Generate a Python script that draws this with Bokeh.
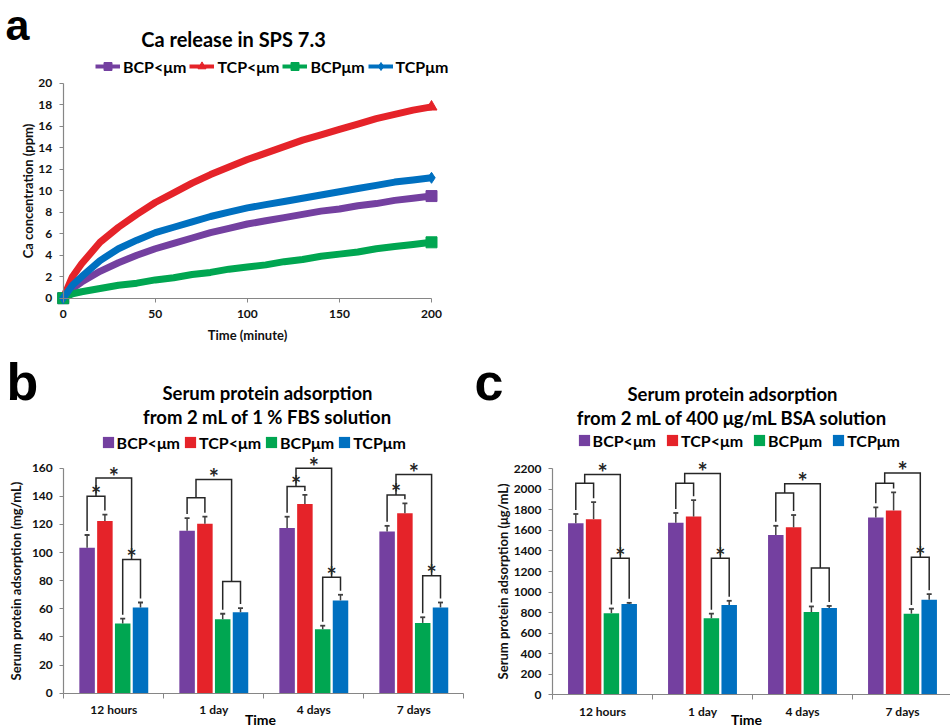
import numpy as np
from bokeh.plotting import figure
from bokeh.models import Label, Legend, LegendItem, FixedTicker, Range1d, ColumnDataSource
from bokeh.layouts import column, row
from bokeh.embed import file_html
from bokeh.resources import INLINE
from bokeh.core.properties import value

FONT = "Lato"
LETTER_FONT = "Liberation Sans"
AXIS_GRAY = "#868686"
TXT = "#111111"
ERR = "#404040"
BRK = "#262626"
BASE_SHIFT = 0.4   # empirical: rendered alphabetic baseline sits this many em below y

series = ["BCP<μm", "TCP<μm", "BCPμm", "TCPμm"]
colors = ["#7440A0", "#E52329", "#00A651", "#0070C0"]
markers = ["square", "triangle", "square", "diamond"]

# ---------------- Panel a data ----------------
time_min = [0, 5, 10, 20, 30, 40, 50, 60, 70, 80, 90, 100, 110, 120, 130, 140, 150, 160, 170, 180, 190, 200]
ca_bcp_sub = [0, 0.9, 1.5, 2.5, 3.3, 4.0, 4.6, 5.1, 5.6, 6.1, 6.5, 6.9, 7.2, 7.5, 7.8, 8.1, 8.3, 8.6, 8.8, 9.1, 9.3, 9.5]
ca_tcp_sub = [0, 2.0, 3.2, 5.2, 6.6, 7.8, 8.9, 9.8, 10.7, 11.5, 12.2, 12.9, 13.5, 14.1, 14.7, 15.2, 15.7, 16.2, 16.7, 17.1, 17.5, 17.8]
ca_bcp_um = [0, 0.4, 0.6, 0.9, 1.2, 1.4, 1.7, 1.9, 2.2, 2.4, 2.7, 2.9, 3.1, 3.4, 3.6, 3.9, 4.1, 4.3, 4.6, 4.8, 5.0, 5.2]
ca_tcp_um = [0, 1.2, 2.0, 3.5, 4.6, 5.4, 6.1, 6.6, 7.1, 7.6, 8.0, 8.4, 8.7, 9.0, 9.3, 9.6, 9.9, 10.2, 10.5, 10.8, 11.0, 11.2]
a_xticks = [0, 50, 100, 150, 200]
a_yticks = [0, 2, 4, 6, 8, 10, 12, 14, 16, 18, 20]

# ---------------- Panel b data (1 % FBS, mg/mL) ----------------
categories = ["12 hours", "1 day", "4 days", "7 days"]
fbs_bcp_sub = [103.5, 115.5, 117.5, 115.0]
fbs_tcp_sub = [122.5, 120.5, 134.5, 128.0]
fbs_bcp_um = [49.5, 52.5, 45.5, 50.0]
fbs_tcp_um = [61.0, 57.5, 66.0, 61.0]
fbs_err_bcp_sub = [9.0, 9.0, 8.0, 4.0]
fbs_err_tcp_sub = [4.5, 5.0, 6.5, 7.0]
fbs_err_bcp_um = [3.5, 4.0, 2.5, 4.0]
fbs_err_tcp_um = [3.5, 3.0, 4.0, 3.5]
fbs_h_sub = [140, 139, 147, 141]
fbs_h_um = [95, 79.5, 82.5, 83.5]
fbs_h_link = [153, 152, 160, 155.5]
fbs_star_sub = [True, False, True, True]
fbs_star_um = [True, False, True, True]
fbs_star_link = [True, True, True, True]
b_yticks = [0, 20, 40, 60, 80, 100, 120, 140, 160]

# ---------------- Panel c data (400 µg/mL BSA, µg/mL) ----------------
bsa_bcp_sub = [1670, 1675, 1555, 1725]
bsa_tcp_sub = [1710, 1735, 1630, 1795]
bsa_bcp_um = [795, 745, 805, 790]
bsa_tcp_um = [885, 875, 845, 925]
bsa_err_bcp_sub = [90, 95, 90, 100]
bsa_err_tcp_sub = [165, 160, 120, 175]
bsa_err_bcp_um = [45, 45, 55, 45]
bsa_err_tcp_um = [10, 40, 20, 55]
bsa_h_sub = [2060, 2060, 1965, 2060]
bsa_h_um = [1330, 1330, 1235, 1340]
bsa_h_link = [2145, 2155, 2055, 2160]
bsa_star_sub = [False, False, False, False]
bsa_star_um = [True, True, False, True]
bsa_star_link = [True, True, True, True]
c_yticks = list(range(0, 2201, 200))


class Geo:
    """Maps page pixels of one figure to its data coordinates."""
    def __init__(self, left, top, width, height, x0_px, x_per, y0_px, y_per):
        self.left, self.top, self.width, self.height = left, top, width, height
        self.x0_px, self.x_per, self.y0_px, self.y_per = x0_px, x_per, y0_px, y_per

    def x(self, px):
        return (px - self.x0_px) / self.x_per

    def y(self, py):
        return (self.y0_px - py) / self.y_per

    def xrange(self):
        return Range1d(self.x(self.left), self.x(self.left + self.width))

    def yrange(self):
        return Range1d(self.y(self.top + self.height), self.y(self.top))


def make_fig(g):
    p = figure(width=g.width, height=g.height, x_range=g.xrange(), y_range=g.yrange(),
               min_border=0, min_border_left=0, min_border_right=0, min_border_top=0, min_border_bottom=0,
               output_backend="svg", toolbar_location=None)
    p.title.visible = False
    p.xgrid.visible = False
    p.ygrid.visible = False
    p.outline_line_color = None
    p.background_fill_color = "white"
    p.border_fill_color = "white"
    p.xaxis.fixed_location = 0
    p.yaxis.fixed_location = 0
    for ax in p.axis:
        ax.axis_line_color = AXIS_GRAY
        ax.axis_line_width = 1.2
        ax.major_tick_line_color = AXIS_GRAY
        ax.major_tick_in = 0
        ax.major_tick_out = 4
        ax.minor_tick_line_color = None
        ax.major_label_text_font = FONT
        ax.major_label_text_font_style = "bold"
        ax.major_label_text_font_size = "12px"
        ax.major_label_text_color = TXT
        ax.axis_label_text_font = FONT
        ax.axis_label_text_font_style = "bold"
        ax.axis_label_text_font_size = "13px"
        ax.axis_label_text_color = TXT
    return p


def add_text(p, g, px, baseline_py, text, size_px, font=FONT, align="center"):
    p.add_layout(Label(x=g.x(px), y=g.y(baseline_py - BASE_SHIFT * size_px), text=text,
                       text_align=align, text_baseline="alphabetic",
                       text_font=font, text_font_style="bold", text_font_size=f"{size_px}px",
                       text_color="#000000"))


SPLIT = 350  # page y where the lower row of panels starts

# ======================= Panel a =======================
ga = Geo(0, 0, 950, SPLIT, 62.7, (431 - 62.7) / 200, 297.7, (297.7 - 82.7) / 20)
pa = make_fig(ga)
pa.xaxis.ticker = FixedTicker(ticks=a_xticks)
pa.yaxis.ticker = FixedTicker(ticks=a_yticks)
pa.xaxis.bounds = (a_xticks[0], a_xticks[-1])
pa.yaxis.bounds = (a_yticks[0], a_yticks[-1])
pa.xaxis.axis_label = "Time (minute)"
pa.yaxis.axis_label = "Ca concentration (ppm)"
pa.xaxis.major_label_standoff = 8
pa.yaxis.major_label_standoff = 7
pa.xaxis.axis_label_standoff = 5
pa.yaxis.axis_label_standoff = 0

a_series = [ca_bcp_sub, ca_tcp_sub, ca_bcp_um, ca_tcp_um]
a_items = []
# thin line + small end markers (drawn first, hidden under the thick ones) serve as legend glyphs
for name, vals, c, m in zip(series, a_series, colors, markers):
    lr = pa.line(time_min, vals, line_width=4, color=c)
    sr = pa.scatter([time_min[0], time_min[-1]], [vals[0], vals[-1]], marker=m, size=8, color=c)
    a_items.append(LegendItem(label=name, renderers=[lr, sr]))
for name, vals, c, m in zip(series, a_series, colors, markers):
    pa.line(time_min, vals, line_width=7, color=c)
    pa.scatter([time_min[0], time_min[-1]], [vals[0], vals[-1]], marker=m, size=11, color=c)

leg_a = Legend(items=a_items, orientation="horizontal", location=(95, SPLIT - 76),
               glyph_width=25, glyph_height=20, label_height=20, label_standoff=3, spacing=3,
               padding=0, margin=0, border_line_color=None, background_fill_alpha=0,
               label_text_font=FONT, label_text_font_style="bold", label_text_font_size="16px",
               label_text_color="#000000")
pa.add_layout(leg_a)
add_text(pa, ga, 233, 46.5, "Ca release in SPS 7.3", 20)
add_text(pa, ga, 5, 42, "a", 43, font=LETTER_FONT, align="left")


# ======================= Bar panels =======================
offsets = [-0.267, -0.089, 0.089, 0.267]
BAR_W = 0.155
x_center = np.arange(len(categories)) + 0.5


def bar_panel(p, means, errs, h_sub, h_um, h_link, s_sub, s_um, s_link, py_unit, star_px):
    rends = []
    tops = []
    for j, (m, e, c) in enumerate(zip(means, errs, colors)):
        xs = x_center + offsets[j]
        m = np.array(m, dtype=float)
        t = m + np.array(e, dtype=float)
        tops.append(t)
        r = p.vbar(x=xs, top=m, width=BAR_W, color=c, line_color=None)
        rends.append(r)
        p.segment(x0=xs, y0=m, x1=xs, y1=t, line_color=ERR, line_width=1.5)
        p.segment(x0=xs - 0.025, y0=t, x1=xs + 0.025, y1=t, line_color=ERR, line_width=1.8)
    gap = 4.0 / py_unit
    bx, by, sx, sy = [], [], [], []
    for i in range(len(categories)):
        xp, xr, xg, xb = [x_center[i] + o for o in offsets]
        bx.append([xp, xp, xr, xr]); by.append([tops[0][i] + gap, h_sub[i], h_sub[i], tops[1][i] + gap])
        bx.append([xg, xg, xb, xb]); by.append([tops[2][i] + gap, h_um[i], h_um[i], tops[3][i] + gap])
        m1, m2 = (xp + xr) / 2, (xg + xb) / 2
        bx.append([m1, m1, m2, m2]); by.append([h_sub[i], h_link[i], h_link[i], h_um[i]])
        for flag, xx, hh in ((s_sub[i], m1, h_sub[i]), (s_um[i], m2, h_um[i]), (s_link[i], (m1 + m2) / 2, h_link[i])):
            if flag:
                sx.append(xx); sy.append(hh + star_px / py_unit)
    p.multi_line(xs=bx, ys=by, line_color=BRK, line_width=1.5, line_join="miter")
    src = ColumnDataSource(dict(x=sx, y=sy, t=["*"] * len(sx)))
    p.text(x="x", y="y", text="t", source=src, text_align="center", text_baseline="alphabetic",
           text_font=value(FONT), text_font_style="bold", text_font_size="24px", text_color=BRK)
    return rends


def bar_axes(p, yticks, x_end):
    p.xaxis.ticker = FixedTicker(ticks=list(x_center),
                                 minor_ticks=[k for k in range(len(categories) + 1) if k <= x_end])
    p.xaxis.major_label_overrides = {float(v): cat for v, cat in zip(x_center, categories)}
    p.xaxis.bounds = (0, x_end)
    p.xaxis.major_tick_out = 0
    p.xaxis.minor_tick_line_color = AXIS_GRAY
    p.xaxis.minor_tick_in = 0
    p.xaxis.minor_tick_out = 5
    p.xaxis.major_label_standoff = 4
    p.yaxis.ticker = FixedTicker(ticks=yticks)
    p.yaxis.bounds = (yticks[0], yticks[-1])
    p.yaxis.major_label_standoff = 7


def bar_legend(p, rends, loc, spacing):
    items = [LegendItem(label=n, renderers=[r]) for n, r in zip(series, rends)]
    leg = Legend(items=items, orientation="horizontal", location=loc,
                 glyph_width=14, glyph_height=14, label_height=20, label_standoff=2, spacing=spacing,
                 padding=0, margin=0, border_line_color=None, background_fill_alpha=0,
                 label_text_font=FONT, label_text_font_style="bold", label_text_font_size="16px",
                 label_text_color="#000000")
    p.add_layout(leg)


# ---------- Panel b ----------
gb = Geo(0, SPLIT, 470, 727 - SPLIT, 63.3, 100.0, 692.7, (692.7 - 467.7) / 160)
pb = make_fig(gb)
bar_axes(pb, b_yticks, 4)
pb.yaxis.axis_label = "Serum protein adsorption (mg/mL)"
pb.yaxis.axis_label_standoff = 5
rb = bar_panel(pb, [fbs_bcp_sub, fbs_tcp_sub, fbs_bcp_um, fbs_tcp_um],
               [fbs_err_bcp_sub, fbs_err_tcp_sub, fbs_err_bcp_um, fbs_err_tcp_um],
               fbs_h_sub, fbs_h_um, fbs_h_link, fbs_star_sub, fbs_star_um, fbs_star_link, gb.y_per, 2)
bar_legend(pb, rb, (100.6 - gb.left, gb.top + gb.height - 452.3), 3)
add_text(pb, gb, 267, 399.5, "Serum protein adsorption", 18.5)
add_text(pb, gb, 267, 424, "from 2 mL of 1 % FBS solution", 18.5)
add_text(pb, gb, 6, 402, "b", 52, font=LETTER_FONT, align="left")
add_text(pb, gb, 260, 725, "Time", 14)

# ---------- Panel c ----------
gc = Geo(470, SPLIT, 480, 727 - SPLIT, 552.0, 100.0, 694.3, (694.3 - 468.3) / 2200)
pc = make_fig(gc)
bar_axes(pc, c_yticks, gc.x(950))
pc.yaxis.axis_label = "Serum protein adsorption (μg/mL)"
pc.yaxis.axis_label_standoff = 0
rc = bar_panel(pc, [bsa_bcp_sub, bsa_tcp_sub, bsa_bcp_um, bsa_tcp_um],
               [bsa_err_bcp_sub, bsa_err_tcp_sub, bsa_err_bcp_um, bsa_err_tcp_um],
               bsa_h_sub, bsa_h_um, bsa_h_link, bsa_star_sub, bsa_star_um, bsa_star_link, gc.y_per, 2)
bar_legend(pc, rc, (576.6 - gc.left, gc.top + gc.height - 450), 9)
add_text(pc, gc, 732, 400.5, "Serum protein adsorption", 18.5)
add_text(pc, gc, 732, 425, "from 2 mL of 400 μg/mL BSA solution", 18.5)
add_text(pc, gc, 474, 402, "c", 52, font=LETTER_FONT, align="left")
add_text(pc, gc, 746, 725, "Time", 14)

layout = column(pa, row(pb, pc, spacing=0), spacing=0)
open("out.html", "w").write(file_html(layout, INLINE))
